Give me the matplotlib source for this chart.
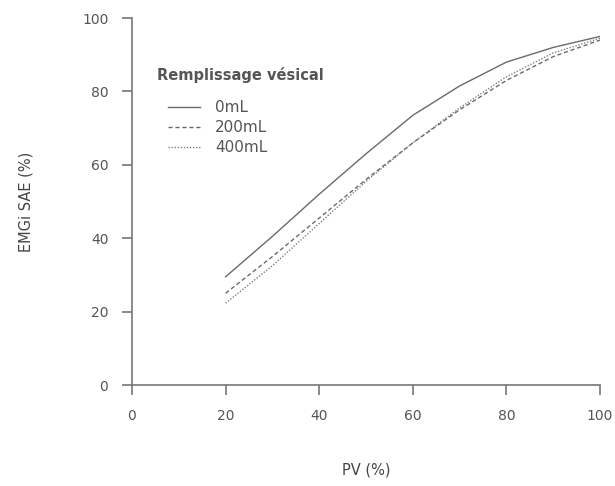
import numpy as np
import matplotlib.pyplot as plt

# PV (%) on x, EMGi SAE (%) on y, one curve per bladder filling volume
pv = [20, 30, 40, 50, 60, 70, 80, 90, 100]
emg_0ml = [29.5, 40.5, 52.0, 63.0, 73.5, 81.5, 88.0, 92.0, 95.0]
emg_200ml = [25.0, 35.0, 45.5, 56.0, 66.0, 75.0, 83.0, 89.5, 94.0]
emg_400ml = [22.3, 32.5, 44.0, 55.5, 66.0, 75.5, 84.0, 90.5, 94.5]
labels = ["0mL", "200mL", "400mL"]

grey = "#6a6a6a"
txt = "#555555"
W, H = 615, 486

fig = plt.figure(figsize=(6.15, 4.86), dpi=100)
ax = fig.add_axes([0.2146, 0.2078, 0.761, 0.755])

ax.plot(pv, emg_0ml, "-", color=grey, lw=1.0, label=labels[0])
ax.plot(pv, emg_200ml, color=grey, lw=1.0, ls=(0, (3, 2)), label=labels[1])
ax.plot(pv, emg_400ml, color="#808080", lw=1.0, ls=(0, (1, 1.2)), label=labels[2])

ax.set_xlim(0, 100)
ax.set_ylim(0, 100)
ax.set_xticks([0, 20, 40, 60, 80, 100])
ax.set_yticks([0, 20, 40, 60, 80, 100])

for s in ["top", "right"]:
    ax.spines[s].set_visible(False)
for s in ["left", "bottom"]:
    ax.spines[s].set_color("#777777")
    ax.spines[s].set_linewidth(1.2)
ax.tick_params(axis="both", direction="out", length=7, width=1.2, color="#777777",
               labelcolor=txt, labelsize=10)
ax.tick_params(axis="y", pad=10)
ax.tick_params(axis="x", pad=10)

ax.set_xlabel("PV (%)", fontsize=10.5, color="#444444", labelpad=29)
ax.set_ylabel("EMGi SAE (%)", fontsize=10.5, color="#444444", labelpad=35)

# legend title sits left of the indented entries
fig.text(157 / W, 1 - 75 / H, "Remplissage vésical", fontsize=10.5,
         color=txt, va="center", ha="left", fontweight="semibold")
leg = ax.legend(loc="upper left", bbox_to_anchor=(168 / W, 1 - 100 / H),
                bbox_transform=fig.transFigure, frameon=False, fontsize=11,
                borderpad=0, borderaxespad=0, handlelength=2.1,
                handletextpad=1.0, labelspacing=0.34, labelcolor=txt)

fig.savefig("out.png", dpi=100)
